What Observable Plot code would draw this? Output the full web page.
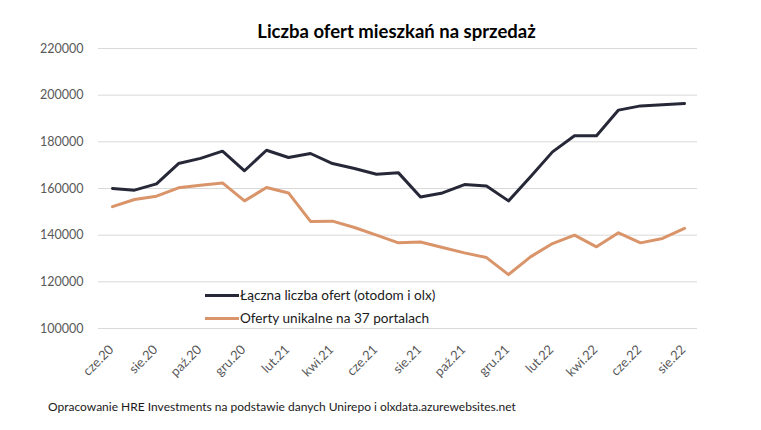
<!DOCTYPE html>
<html>
<head>
<meta charset="utf-8">
<script src="https://cdn.jsdelivr.net/npm/d3@7"></script>
<script src="https://cdn.jsdelivr.net/npm/@observablehq/plot@0.6"></script>
<style>
  html, body { margin: 0; padding: 0; background: #fff; }
  #wrap { position: relative; width: 761px; height: 430px; font-family: Lato, "Open Sans", sans-serif; }
  #title { position: absolute; left: 0; width: 793px; top: 20px; text-align: center; font-weight: bold; font-size: 18.5px; color: #000; }
  #caption { position: absolute; left: 48px; top: 399px; font-size: 12px; color: #1a1a1a; }
  .leg { position: absolute; left: 205px; font-size: 13.6px; color: #1a1a1a; display: flex; align-items: center; }
  .leg span.sw { display: inline-block; width: 34px; height: 3px; margin-right: 1px; }
  #chart { position: absolute; left: 0; top: 0; }
</style>
</head>
<body>
<div id="wrap">
  <div id="chart"></div>
  <div id="title">Liczba ofert mieszkań na sprzedaż</div>
  <div class="leg" style="top:287px"><span class="sw" style="background:#262838"></span>Łączna liczba ofert (otodom i olx)</div>
  <div class="leg" style="top:310px"><span class="sw" style="background:#d9946a"></span>Oferty unikalne na 37 portalach</div>
  <div id="caption">Opracowanie HRE Investments na podstawie danych Unirepo i olxdata.azurewebsites.net</div>
</div>
<script>
const months = ["cze.20","lip.20","sie.20","wrz.20","paź.20","lis.20","gru.20","sty.21","lut.21","mar.21","kwi.21","maj.21","cze.21","lip.21","sie.21","wrz.21","paź.21","lis.21","gru.21","sty.22","lut.22","mar.22","kwi.22","maj.22","cze.22","lip.22","sie.22"];
const totalOffers = [160000,159300,162000,170700,172900,176000,167600,176400,173300,175000,170700,168600,166100,166700,156400,158100,161700,161100,154700,165000,175700,182600,182600,193600,195400,195900,196400];
const uniqueOffers = [152200,155300,156700,160300,161400,162400,154700,160400,158100,145900,146000,143300,140000,136700,137100,134700,132400,130400,123100,130700,136400,140000,135000,141000,136700,138600,142900];
const seriesNames = ["Łączna liczba ofert (otodom i olx)", "Oferty unikalne na 37 portalach"];
const yTicks = [100000,120000,140000,160000,180000,200000,220000];
const xTickLabels = months.filter((m, i) => i % 2 === 0);

const rows = [];
months.forEach((m, i) => {
  rows.push({month: m, value: totalOffers[i], series: seriesNames[0]});
  rows.push({month: m, value: uniqueOffers[i], series: seriesNames[1]});
});

const chart = Plot.plot({
  width: 761,
  height: 430,
  marginTop: 48,
  marginBottom: 102,
  marginLeft: 98,
  marginRight: 64,
  style: {fontFamily: "Lato, 'Open Sans', sans-serif", fontSize: "12px", color: "#595959", background: "transparent"},
  x: {type: "point", domain: months, padding: 0.5},
  y: {domain: [100000, 220000]},
  color: {domain: seriesNames, range: ["#262838", "#d9946a"]},
  marks: [
    Plot.gridY(yTicks, {stroke: "#d9d9d9", strokeOpacity: 1, strokeWidth: 1}),
    Plot.axisY(yTicks, {tickSize: 0, tickPadding: 15, tickFormat: d => String(d), fill: "#595959", fontSize: 12.5, label: null}),
    Plot.axisX(xTickLabels, {tickSize: 0, tickPadding: 19, dx: -1, tickRotate: -45, fill: "#595959", fontSize: 13, label: null}),
    Plot.line(rows, {x: "month", y: "value", z: "series", stroke: "series", strokeWidth: 3, strokeLinejoin: "round"})
  ]
});
document.getElementById("chart").appendChild(chart);
</script>
</body>
</html>
